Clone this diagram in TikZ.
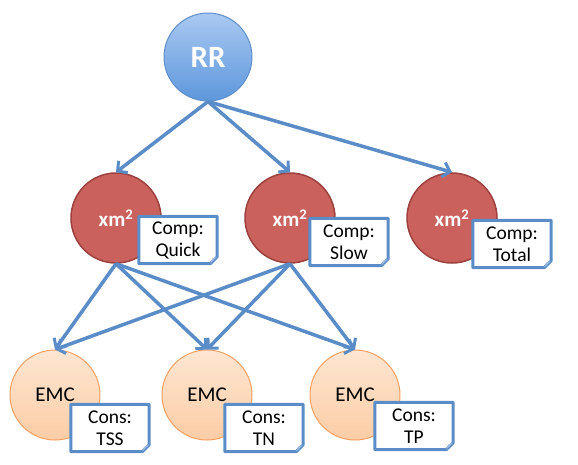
\documentclass[tikz,border=0pt]{standalone}
\usepackage{fontspec}
\setmainfont{Carlito}
\usetikzlibrary{arrows.meta}

\definecolor{linec}{HTML}{5A8DC8}
\definecolor{rrtop}{HTML}{A9C9F2}
\definecolor{rrbot}{HTML}{5E97DC}
\definecolor{rrline}{HTML}{5F8FCB}
\definecolor{xmfill}{HTML}{CB615D}
\definecolor{xmline}{HTML}{9C413E}
\definecolor{emctop}{HTML}{FEE6D2}
\definecolor{emcbot}{HTML}{FBCDA6}
\definecolor{emcline}{HTML}{F4A062}

\tikzset{
  rrnode/.style={circle, minimum size=88pt, draw=rrline, line width=1pt,
    top color=rrtop, bottom color=rrbot, text=white,
    font=\fontsize{31}{31}\selectfont\bfseries},
  xmnode/.style={circle, minimum size=90pt, draw=xmline, line width=1.5pt,
    fill=xmfill, text=white, font=\fontsize{21}{21}\selectfont\bfseries},
  emcnode/.style={circle, minimum size=90pt, draw=emcline, line width=1pt,
    top color=emctop, bottom color=emcbot, font=\fontsize{21}{21}\selectfont},
  note/.style={fill=white, minimum width=78pt, minimum height=47pt, inner sep=0pt,
    align=center, font=\fontsize{19.5}{22}\selectfont},
  noteline/.style={draw=linec, line width=3pt, line join=round},
  link/.style={draw=linec, line width=3.5pt,
    -{Straight Barb[length=7pt,width=15pt,line width=3pt]}}
}

\begin{document}
\begin{tikzpicture}[x=1pt,y=-1pt]
  \useasboundingbox (0,0) rectangle (578,465);

  \node[rrnode] (rr) at (208,57) {RR};

  \node[xmnode] (xm1) at (116,218) {xm\textsuperscript{2}};
  \node[xmnode] (xm2) at (290,218) {xm\textsuperscript{2}};
  \node[xmnode] (xm3) at (452,218) {xm\textsuperscript{2}};

  \node[emcnode] (emc1) at (55,395) {EMC};
  \node[emcnode] (emc2) at (207,395) {EMC};
  \node[emcnode] (emc3) at (355,395) {EMC};

  % arrows
  \foreach \t in {xm1,xm2,xm3}
    \draw[link] (rr.south) -- (\t.north);
  \foreach \s in {xm1,xm2}
    \foreach \t in {emc1,emc2,emc3}
      \draw[link] (\s.south) -- (\t.north);

  % notes
  \node[note] (n1) at (178,240) {Comp:\\Quick};
  \node[note] (n2) at (349,242) {Comp:\\Slow};
  \node[note] (n3) at (512,244) {Comp:\\Total};
  \node[note] (n4) at (110,428) {Cons:\\TSS};
  \node[note] (n5) at (264,428) {Cons:\\TN};
  \node[note] (n6) at (414,426) {Cons:\\TP};
  \foreach \n in {n1,n2,n3,n4,n5,n6} {
    \draw[noteline] (\n.north west) -- (\n.north east) -- ([yshift=7pt]\n.south east)
      -- ([xshift=-7pt]\n.south east) -- (\n.south west) -- cycle;
    \fill[linec!60] ([yshift=7pt]\n.south east) -- ([xshift=-5pt,yshift=5pt]\n.south east)
      -- ([xshift=-7pt]\n.south east) -- cycle;
  }
\end{tikzpicture}
\end{document}
